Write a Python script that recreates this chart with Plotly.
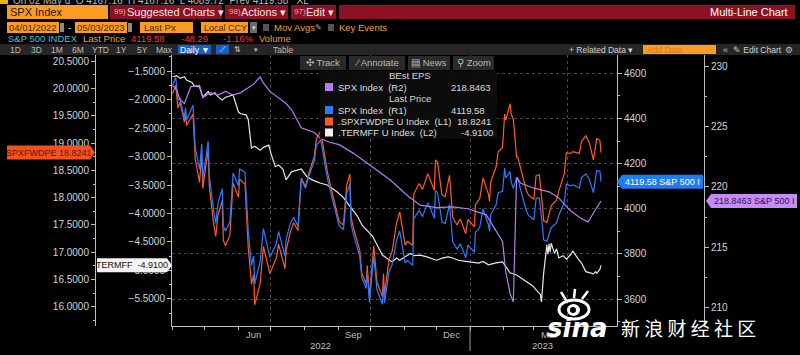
import plotly.graph_objects as go

# ---------------- data ----------------
spx_dates = ["2022-04-01","2022-04-04","2022-04-06","2022-04-08","2022-04-12","2022-04-13","2022-04-14","2022-04-20",
    "2022-04-22","2022-04-26","2022-04-28","2022-04-29","2022-05-04","2022-05-05","2022-05-09","2022-05-11",
    "2022-05-13","2022-05-17","2022-05-18","2022-05-20","2022-05-24","2022-05-27","2022-06-01","2022-06-02",
    "2022-06-07","2022-06-10","2022-06-13","2022-06-15","2022-06-16","2022-06-21","2022-06-24","2022-06-28",
    "2022-06-30","2022-07-06","2022-07-08","2022-07-14","2022-07-15","2022-07-19","2022-07-22","2022-07-26",
    "2022-07-29","2022-08-02","2022-08-05","2022-08-10","2022-08-12","2022-08-16","2022-08-19","2022-08-22",
    "2022-08-26","2022-08-31","2022-09-02","2022-09-06","2022-09-09","2022-09-12","2022-09-13","2022-09-16",
    "2022-09-21","2022-09-23","2022-09-27","2022-09-28","2022-09-30","2022-10-04","2022-10-07","2022-10-12",
    "2022-10-13","2022-10-14","2022-10-18","2022-10-21","2022-10-25","2022-10-28","2022-11-02","2022-11-04",
    "2022-11-09","2022-11-10","2022-11-15","2022-11-18","2022-11-23","2022-11-29","2022-11-30","2022-12-02",
    "2022-12-06","2022-12-09","2022-12-13","2022-12-16","2022-12-20","2022-12-23","2022-12-28","2022-12-30",
    "2023-01-05","2023-01-06","2023-01-10","2023-01-13","2023-01-18","2023-01-19","2023-01-20","2023-01-25",
    "2023-01-27","2023-01-31","2023-02-02","2023-02-03","2023-02-07","2023-02-08","2023-02-10","2023-02-13",
    "2023-02-14","2023-02-17","2023-02-22","2023-02-24","2023-03-01","2023-03-03","2023-03-06","2023-03-09",
    "2023-03-10","2023-03-13","2023-03-15","2023-03-17","2023-03-22","2023-03-24","2023-03-29","2023-03-31",
    "2023-04-04","2023-04-06","2023-04-12","2023-04-14","2023-04-18","2023-04-21","2023-04-25","2023-04-27",
    "2023-04-28","2023-05-01","2023-05-02"]
spx_close = [4546,4583,4481,4488,4397,4447,4392,4459,4272,4175,4288,4132,4300,4147,3991,3935,
    4024,4089,3923,3901,3941,4158,4101,4177,4161,3901,3750,3790,3667,3765,3912,3821,
    3785,3845,3899,3790,3863,3937,3962,3921,4130,4091,4145,4210,4280,4305,4228,4138,
    4058,3955,3924,3908,4067,4110,3932,3873,3790,3693,3647,3719,3586,3791,3640,3577,
    3670,3583,3720,3752,3859,3901,3760,3771,3749,3956,3992,3965,4027,3958,4080,4072,
    3941,3934,4019,3852,3821,3845,3783,3840,3808,3895,3919,3999,3929,3899,3973,4016,
    4071,4077,4180,4136,4164,4118,4090,4137,4136,4079,3991,3970,3951,4046,4048,3919,
    3862,3855,3892,3917,3937,3971,4028,4109,4101,4105,4092,4138,4154,4133,4071,4136,
    4169,4167,4119.58]
pe_values = [19.90,20.06,19.64,19.75,19.38,19.58,19.32,19.53,18.71,18.28,18.81,18.17,18.88,18.21,17.53,17.29,
    17.68,17.95,17.22,17.12,17.31,18.27,18.01,18.34,18.25,17.09,16.42,16.59,16.04,16.43,17.11,16.74,
    16.61,16.90,17.15,16.70,17.03,17.38,17.54,17.40,18.36,18.20,18.45,18.75,19.08,19.22,18.88,18.49,
    18.14,17.69,17.56,17.50,18.23,18.43,17.64,17.39,17.04,16.61,16.43,16.76,16.17,17.12,16.45,16.19,
    16.61,16.22,16.86,17.02,17.53,17.74,17.13,17.20,17.13,18.07,18.26,18.15,18.44,18.13,18.69,18.65,
    18.05,18.02,18.41,17.64,17.50,17.61,17.34,17.60,17.47,17.87,17.99,18.36,18.06,17.93,18.28,18.56,
    18.84,18.92,19.53,19.42,19.72,19.53,19.43,18.74,18.74,18.52,18.13,18.05,17.97,18.40,18.42,17.84,
    17.58,17.55,17.72,17.85,17.96,18.12,18.43,18.82,18.81,18.84,18.81,19.03,19.13,19.02,18.69,18.95,
    19.08,19.05,18.8241]

eps_dates = ["2022-04-01","2022-04-05","2022-04-08","2022-04-12","2022-04-18","2022-04-26","2022-04-29","2022-05-06",
    "2022-05-13","2022-05-20","2022-05-27","2022-06-03","2022-06-10","2022-06-15","2022-06-21","2022-06-24",
    "2022-06-30","2022-07-08","2022-07-15","2022-07-20","2022-07-29","2022-08-10","2022-08-16","2022-08-24",
    "2022-09-02","2022-09-15","2022-09-30","2022-10-12","2022-10-19","2022-11-04","2022-11-16","2022-12-01",
    "2022-12-16","2022-12-30","2023-01-16","2023-01-31","2023-02-03","2023-02-07","2023-02-10","2023-02-13",
    "2023-02-17","2023-03-01","2023-03-15","2023-03-24","2023-04-03","2023-04-12","2023-04-20","2023-04-25",
    "2023-05-01","2023-05-02"]
eps_values = [228.4,228.0,227.2,226.9,228.3,228.4,227.4,227.8,227.6,227.9,227.6,227.8,228.2,228.5,229.1,228.6,
    227.9,227.4,226.9,226.4,224.9,224.5,224.0,223.7,223.5,222.8,221.8,221.0,220.6,219.3,218.5,218.3,
    218.35,218.2,217.7,215.5,213.0,211.2,210.5,220.8,220.3,219.9,219.6,219.1,218.1,217.5,217.1,217.85,
    218.76,218.8463]

termff_dates = ["2022-04-01","2022-04-05","2022-04-08","2022-04-12","2022-04-14","2022-04-19","2022-04-21","2022-04-26",
    "2022-04-29","2022-05-04","2022-05-06","2022-05-10","2022-05-13","2022-05-17","2022-05-20","2022-05-24",
    "2022-05-27","2022-06-01","2022-06-03","2022-06-08","2022-06-10","2022-06-13","2022-06-16","2022-06-21",
    "2022-06-24","2022-06-29","2022-07-01","2022-07-05","2022-07-08","2022-07-12","2022-07-15","2022-07-20",
    "2022-07-25","2022-07-29","2022-08-03","2022-08-08","2022-08-12","2022-08-16","2022-08-22","2022-08-26",
    "2022-08-31","2022-09-06","2022-09-09","2022-09-14","2022-09-19","2022-09-23","2022-09-28","2022-10-03",
    "2022-10-07","2022-10-12","2022-10-17","2022-10-21","2022-10-25","2022-10-28","2022-11-02","2022-11-07",
    "2022-11-10","2022-11-16","2022-11-22","2022-11-28","2022-12-01","2022-12-07","2022-12-12","2022-12-16",
    "2022-12-21","2022-12-28","2023-01-03","2023-01-09","2023-01-13","2023-01-18","2023-01-24","2023-01-31",
    "2023-02-03","2023-02-07","2023-02-13","2023-02-17","2023-02-22","2023-02-28","2023-03-03","2023-03-07",
    "2023-03-08","2023-03-10","2023-03-13","2023-03-14","2023-03-15","2023-03-16","2023-03-17","2023-03-20",
    "2023-03-22","2023-03-24","2023-03-28","2023-03-31","2023-04-04","2023-04-06","2023-04-11","2023-04-14",
    "2023-04-18","2023-04-21","2023-04-25","2023-04-27","2023-04-28","2023-05-01","2023-05-02"]
termff_values = [-1.60,-1.58,-1.63,-1.60,-1.66,-1.70,-1.76,-1.78,-1.96,-1.86,-1.92,-1.88,-1.95,-2.01,-1.96,-1.93,
    -1.92,-2.22,-2.25,-2.27,-2.35,-2.85,-2.82,-2.89,-2.84,-2.80,-2.95,-3.18,-3.15,-3.22,-3.41,-3.27,
    -3.24,-3.22,-3.35,-3.41,-3.44,-3.47,-3.50,-3.55,-3.62,-3.72,-3.80,-3.92,-4.05,-4.20,-4.30,-4.40,
    -4.55,-4.73,-4.80,-4.85,-4.78,-4.82,-4.76,-4.70,-4.74,-4.73,-4.76,-4.80,-4.82,-4.78,-4.76,-4.78,
    -4.82,-4.84,-4.85,-4.87,-4.84,-4.90,-4.87,-4.85,-4.93,-5.04,-5.08,-5.13,-5.18,-5.27,-5.34,-5.42,
    -5.55,-5.05,-4.55,-4.72,-4.53,-4.68,-4.52,-4.70,-4.62,-4.78,-4.74,-4.80,-4.72,-4.66,-4.80,-4.87,
    -5.02,-5.04,-5.06,-5.02,-5.05,-4.98,-4.91]

month_label_dates = ["2022-06-15", "2022-09-15", "2022-12-15", "2023-03-15"]
month_labels = ["Jun", "Sep", "Dec", "Mar"]
year_label_dates = ["2022-08-16", "2023-03-09"]
year_labels = ["2022", "2023"]
quarter_grid = ["2022-07-01", "2022-10-01", "2023-01-01", "2023-04-01"]

# ---------------- layout helpers ----------------
W, H = 800, 355
def px(x): return x / W
def py(y): return 1 - y / H

shapes, annos = [], []
def rect(x0, y0, x1, y1, fill, layer="above"):
    shapes.append(dict(type="rect", xref="paper", yref="paper", x0=px(x0), x1=px(x1),
                       y0=py(y1), y1=py(y0), fillcolor=fill, line=dict(width=0), layer=layer))
def txt(x, y, s, color="#d0d0d0", size=10, anchor="left", family="Liberation Sans", **kw):
    annos.append(dict(xref="paper", yref="paper", x=px(x), y=py(y), text=s, showarrow=False,
                      xanchor=anchor, yanchor="middle", borderpad=0,
                      font=dict(color=color, size=size, family=family), **kw))

ORANGE_BOX = "#f99b25"
BOX_TXT = "#5a2300"
RED = "#8a1224"
AMBER = "#f0a020"

# Row 0 (clipped quote line)
rect(0, 0, 8, 4, "#e8b400")
txt(12, 0, "On 02 May d  O 4167.16  H 4167.16  L 4089.72  Prev 4119.58   XL", "#b8b8b8", 10)
# Row 1
rect(7, 5, 108, 19, ORANGE_BOX)
txt(9, 12, "SPX Index", "#1a1a1a", 11)
for a, b in [(110, 222), (225, 288), (291, 336), (339, 795)]:
    rect(a, 5, b, 19, RED)
txt(113, 12, "99)", "#e8a8b0", 8)
txt(126, 12, "Suggested Charts ▾", "#f2e4e4", 11)
txt(228, 12, "98)", "#e8a8b0", 8)
txt(240, 12, "Actions ▾", "#f2e4e4", 11)
txt(293, 12, "97)", "#e8a8b0", 8)
txt(305, 12, "Edit ▾", "#f2e4e4", 11)
txt(789, 12, "Multi-Line Chart", "#ffffff", 11, "right")
# Row 2
rect(7, 22, 59, 33, ORANGE_BOX); txt(33, 27.5, "04/01/2022", BOX_TXT, 9.5, "center")
rect(60, 23, 64, 32, "#8a8a8a")
txt(69, 27.5, "-", "#d0d0d0", 10, "center")
rect(75, 22, 127, 33, ORANGE_BOX); txt(101, 27.5, "05/03/2023", BOX_TXT, 9.5, "center")
rect(128, 23, 132, 32, "#8a8a8a")
rect(140, 22, 193, 33, ORANGE_BOX); txt(143, 27.5, "Last Px", BOX_TXT, 9.5)
rect(201, 22, 248, 33, ORANGE_BOX); txt(203, 27.5, "Local CCY", BOX_TXT, 9)
rect(250, 22, 257, 33, "#6a6a6a"); txt(253.5, 27.5, "▾", "#dddddd", 7, "center")
rect(263, 24, 269, 31, "#555555")
txt(273, 27.5, "Mov Avgs", AMBER, 9.5)
txt(314, 27.5, "✎", "#aaaaaa", 8)
rect(328, 24, 334, 31, "#555555")
txt(338, 27.5, "Key Events", AMBER, 9.5)
# Row 3
txt(7, 39, "S&amp;P 500 INDEX", "#3cc4d6", 9.5)
txt(82, 39, "Last Price", AMBER, 9.5)
txt(130, 39, "4119.58", "#ff3333", 9.5)
txt(180, 39, "-48.29", "#ff3333", 9.5)
txt(222, 39, "-1.16%", "#ff3333", 9.5)
txt(258, 39, "Volume", AMBER, 9.5)
# Row 4 toolbar
rect(0, 44, 800, 55, "#262626")
for lab, cx in zip(["1D", "3D", "1M", "6M", "YTD", "1Y", "5Y", "Max"], [15, 36, 57, 78, 100, 121, 142, 164]):
    txt(cx, 49.5, lab, "#bdbdbd", 8.5, "center")
rect(178, 45, 211, 54, "#1560c8"); txt(194.5, 49.5, "Daily ▼", "#ffffff", 8.5, "center")
rect(216, 45, 229, 54, "#1560c8"); txt(222.5, 49.5, "⟋", "#ffffff", 8, "center")
txt(237, 49.5, "⇅", "#bdbdbd", 8, "center")
txt(256, 49.5, "▾", "#bdbdbd", 7, "center")
txt(283, 49.5, "Table", "#bdbdbd", 8.5, "center")
txt(601, 49.5, "+ Related Data ▾", "#d0d0d0", 8.5, "center")
rect(643, 45, 716, 54, ORANGE_BOX); txt(646, 49.5, "Add Data", "#e07a10", 8.5)
txt(725, 49.5, "«", "#bdbdbd", 9, "center")
txt(757, 49.5, "✎ Edit Chart", "#d0d0d0", 8.5, "center")
txt(789, 49.5, "⚙", "#bdbdbd", 9, "center")

# Track/Annotate/News/Zoom toolbar
for a, b, lab in [(300, 346, "✣ Track"), (349, 405, "∕ Annotate"), (408, 450, "▤ News"), (453, 494, "⚲ Zoom")]:
    rect(a, 56, b, 70, "#2a2a2a")
    txt((a + b) / 2, 63, lab, "#b8b8b8", 9.5, "center")

# Legend box
rect(320, 71, 497, 139, "rgba(12,12,12,0.96)")
txt(410, 76, "BEst EPS", "#d8d8d8", 9.5, "center")
txt(410, 98.5, "Last Price", "#d8d8d8", 9.5, "center")
leg = [(87, "#b57cf0", "SPX Index  (R2)", "218.8463", 492),
       (110, "#2b7bff", "SPX Index  (R1)", "4119.58", 486),
       (121.5, "#ff5a1f", ".SPXFWDPE U Index  (L1)", "18.8241", 492),
       (132.5, "#f0f0f0", ".TERMFF U Index  (L2)", "-4.9100", 494)]
for yy, col, name, val, vx in leg:
    rect(325, yy - 4, 333, yy + 4, col)
    txt(337, yy, name, "#dcdcdc", 9.5)
    txt(vx, yy, val, "#dcdcdc", 9.5, "right")

# ---------------- figure ----------------
C_ORANGE, C_BLUE, C_PURPLE, C_WHITE = "#ff5a1f", "#2b7bff", "#b57cf0", "#e6e6e6"
fig = go.Figure()
fig.add_trace(go.Scatter(x=eps_dates, y=eps_values, yaxis="y4", mode="lines",
                         line=dict(color=C_PURPLE, width=1.2), hoverinfo="skip"))
fig.add_trace(go.Scatter(x=spx_dates, y=spx_close, yaxis="y3", mode="lines",
                         line=dict(color=C_BLUE, width=1.2), hoverinfo="skip"))
fig.add_trace(go.Scatter(x=spx_dates, y=pe_values, yaxis="y2", mode="lines",
                         line=dict(color=C_ORANGE, width=1.2), hoverinfo="skip"))
fig.add_trace(go.Scatter(x=termff_dates, y=termff_values, yaxis="y", mode="lines",
                         line=dict(color=C_WHITE, width=1.2), hoverinfo="skip"))

X0, X1 = 172, 617
YTOP, YBOT = 55, 326
dom_y = [py(YBOT), py(YTOP)]
r_l2 = [-5.974, -1.219]
r_l1 = [15.652, 20.61]
r_r1 = [3480.4, 4681]
r_r2 = [208.51, 230.91]

AX = "#bdbdbd"
TF = dict(color="#d4d4d4", size=10, family="Liberation Sans")
def yax(rng, dtick, fmt, side, minor, **kw):
    d = dict(range=rng, domain=dom_y, dtick=dtick, tickformat=fmt, side=side,
             showline=True, linecolor=AX, linewidth=1, ticks="outside", ticklen=4, tickcolor=AX,
             tickfont=TF, showgrid=False, zeroline=False, fixedrange=True,
             minor=dict(dtick=minor, ticklen=2, tickcolor=AX, ticks="outside", showgrid=False))
    d.update(kw)
    return d

fig.update_layout(
    width=W, height=H, margin=dict(l=0, r=0, t=0, b=0),
    paper_bgcolor="#000000", plot_bgcolor="#000000", showlegend=False,
    xaxis=dict(domain=[px(X0), px(X1)], type="date",
               range=["2022-03-31 13:00", "2023-05-16 19:00"],
               tickvals=quarter_grid, showticklabels=False, ticks="outside", ticklen=4, tickcolor=AX,
               showgrid=True, gridcolor="#4a4a4a", griddash="dot", gridwidth=1,
               showline=True, linecolor=AX, linewidth=1, zeroline=False, fixedrange=True,
               minor=dict(dtick="M1", ticklen=3, tickcolor=AX, ticks="outside", showgrid=False)),
    yaxis=yax(r_l2, 0.5, ".4f", "left", 0.25, anchor="x"),
    yaxis2=yax(r_l1, 0.5, ".4f", "left", 0.25, overlaying="y", anchor="free", position=px(95)),
    yaxis3=yax(r_r1, 200, "d", "right", 100, overlaying="y", anchor="x",
               showgrid=True, gridcolor="#4a4a4a", griddash="dot", gridwidth=1),
    yaxis4=yax(r_r2, 5, "d", "right", 2.5, overlaying="y", anchor="free", position=px(704)),
)

# x labels through the date axis
for d, lab in zip(month_label_dates, month_labels):
    annos.append(dict(xref="x", yref="paper", x=d, y=py(334), text=lab, showarrow=False, borderpad=0,
                      xanchor="center", yanchor="middle", font=dict(color="#bdbdbd", size=9.5, family="Liberation Sans")))
for d, lab in zip(year_label_dates, year_labels):
    annos.append(dict(xref="x", yref="paper", x=d, y=py(345), text=lab, showarrow=False, borderpad=0,
                      xanchor="center", yanchor="middle", font=dict(color="#bdbdbd", size=9.5, family="Liberation Sans")))
shapes.append(dict(type="line", xref="x", yref="paper", x0="2023-01-01", x1="2023-01-01",
                   y0=py(351), y1=py(YBOT), line=dict(color="#9a9a9a", width=1)))

# last-value tags on the axes
def tag(axis, rng, value, xl, xr, tip, side, fill, label, tcol):
    hpx = 7.0
    unit = (rng[1] - rng[0]) / (YBOT - YTOP)
    h = hpx * unit
    a, b, t = px(xl), px(xr), px(tip)
    if side == "right":
        path = f"M {a},{value - h} L {b},{value - h} L {t},{value} L {b},{value + h} L {a},{value + h} Z"
    else:
        path = f"M {t},{value} L {a},{value - h} L {b},{value - h} L {b},{value + h} L {a},{value + h} Z"
    shapes.append(dict(type="path", xref="paper", yref=axis, path=path, fillcolor=fill,
                       line=dict(width=0), layer="above"))
    annos.append(dict(xref="paper", yref=axis, x=(a + b) / 2, y=value, text=label, showarrow=False, borderpad=0,
                      xanchor="center", yanchor="middle", font=dict(color=tcol, size=9, family="Liberation Sans")))

tag("y2", r_l1, pe_values[-1], 7, 90, 95, "right", "#f4511e", "SPXFWDPE 18.8241", "#6a1200")
tag("y", r_l2, termff_values[-1], 97, 167, 172, "right", "#f4f4f4", "TERMFF  -4.9100", "#111111")
tag("y3", r_r1, spx_close[-1], 622, 703, 617, "left", "#1f7cf5", "4119.58 S&amp;P 500 I", "#ffffff")
tag("y4", r_r2, eps_values[-1], 711, 797, 706, "left", "#c58cf7", "218.8463 S&amp;P 500 I", "#3a0a5a")

# sina watermark
shapes.append(dict(type="circle", xref="paper", yref="paper", x0=px(559), x1=px(589), y0=py(319), y1=py(300),
                   line=dict(color="white", width=3), layer="above"))
shapes.append(dict(type="circle", xref="paper", yref="paper", x0=px(567), x1=px(580), y0=py(316), y1=py(304),
                   fillcolor="white", line=dict(width=0), layer="above"))
shapes.append(dict(type="circle", xref="paper", yref="paper", x0=px(570), x1=px(576), y0=py(313), y1=py(307),
                   fillcolor="black", line=dict(width=0), layer="above"))
for (a, b, c, d) in [(566, 300, 561, 292), (574, 298, 575, 289), (582, 299, 588, 291)]:
    shapes.append(dict(type="line", xref="paper", yref="paper", x0=px(a), y0=py(b), x1=px(c), y1=py(d),
                       line=dict(color="white", width=2.5), layer="above"))
txt(577, 328, "<b><i>sina</i></b>", "#ffffff", 26, "center", family="DejaVu Sans")
txt(620, 327, "新 浪 财 经 社 区", "#ffffff", 19, "left", family="Noto Sans CJK SC")

fig.update_layout(shapes=shapes, annotations=annos)
fig.write_html("out.html", config={"displayModeBar": False, "staticPlot": True},
               post_script="document.body.style.margin='0px';document.body.style.overflow='hidden';")
